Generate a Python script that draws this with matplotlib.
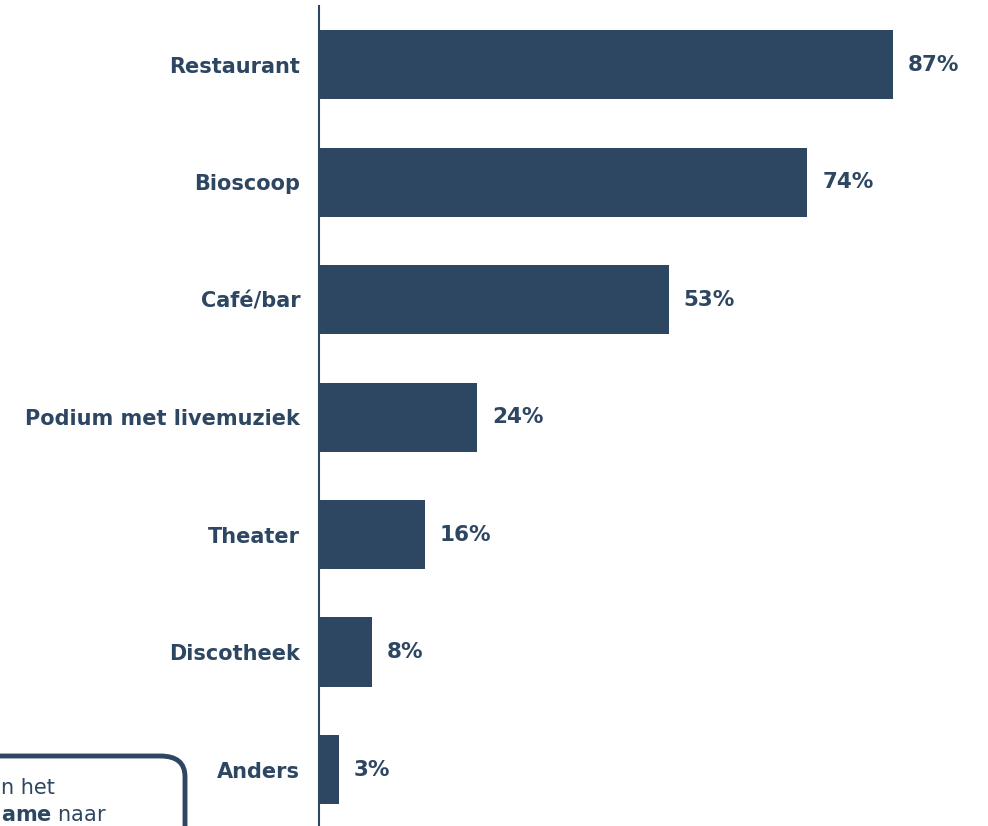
import matplotlib.pyplot as plt
from matplotlib.patches import FancyBboxPatch

# data
categories = ["Restaurant", "Bioscoop", "Café/bar", "Podium met livemuziek",
              "Theater", "Discotheek", "Anders"]
values = [87, 74, 53, 24, 16, 8, 3]

color = "#2d4662"
W, H = 988, 826

fig = plt.figure(figsize=(W / 100, H / 100), dpi=100)
ax = fig.add_axes([319 / W, 0, 669 / W, (H - 6) / H])

ypos = list(range(len(categories)))
ax.barh(ypos, values, height=0.59, color=color)
ax.set_xlim(0, 101.4)
ax.set_ylim(6.48, -0.5)

for y, v in zip(ypos, values):
    ax.annotate(f"{v}%", (v, y), xytext=(15, 0), textcoords="offset pixels",
                va="center", ha="left", fontsize=15.5, fontweight="bold", color=color)

ax.set_yticks(ypos)
ax.set_yticklabels(categories, fontsize=15, fontweight="bold", color=color)
ax.tick_params(axis="y", length=0, pad=13.5)
ax.set_xticks([])
for s in ["top", "right", "bottom"]:
    ax.spines[s].set_visible(False)
ax.spines["left"].set_color(color)
ax.spines["left"].set_linewidth(1.5)

# text box in the lower left corner, mostly cut off by the figure edge
box = FancyBboxPatch((-200 / W, -100 / H), 385 / W, 170 / H,
                     boxstyle="round,pad=0,rounding_size=0.025",
                     transform=fig.transFigure, facecolor="white",
                     edgecolor=color, linewidth=3.5, clip_on=False)
fig.patches.append(box)
fig.text(1 / W, 1 - 788 / H, "n het", ha="left", va="center",
         fontsize=15, color=color)
fig.text(1 / W, 1 - 815 / H, r"$\bf{ame}$ naar", ha="left", va="center",
         fontsize=15, color=color)

fig.savefig("out.png", dpi=100)
